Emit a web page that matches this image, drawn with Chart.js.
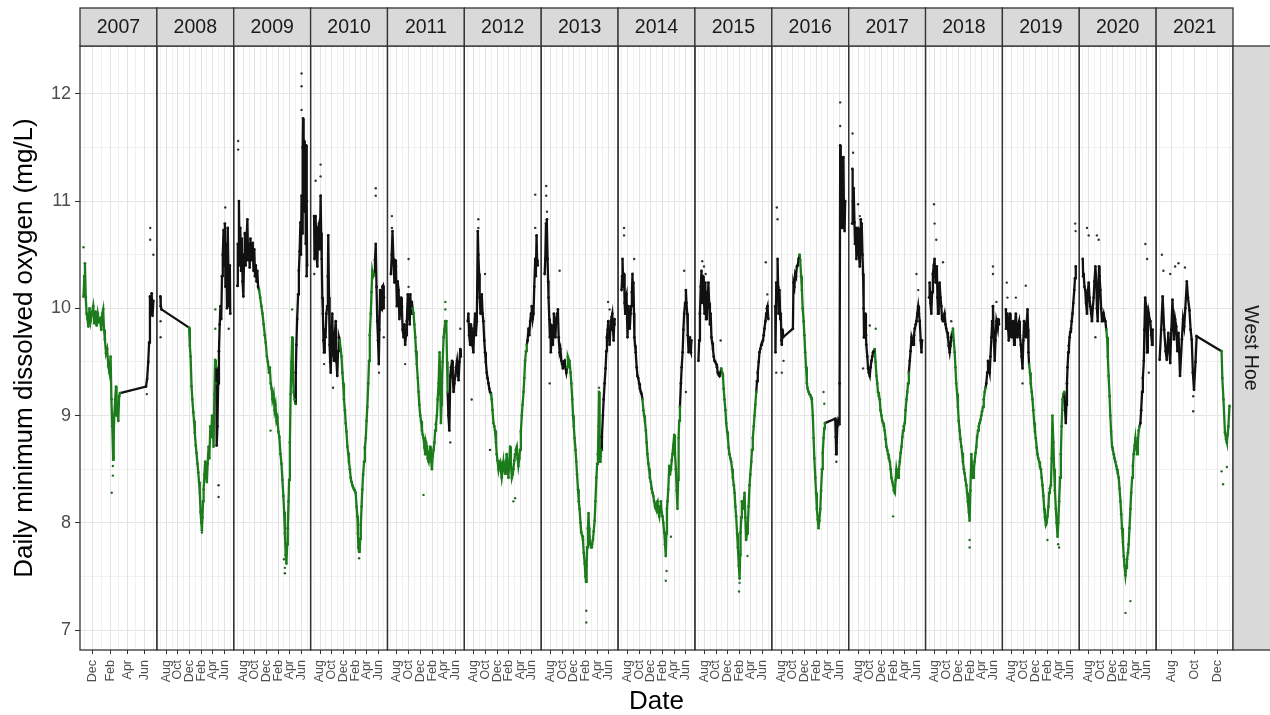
<!DOCTYPE html>
<html>
<head>
<meta charset="utf-8">
<title>Daily minimum dissolved oxygen - West Hoe</title>
<script src="https://cdn.jsdelivr.net/npm/chart.js@4.4.1/dist/chart.umd.min.js"></script>
<style>
  html, body { margin: 0; padding: 0; background: #fff; }
  #wrap { width: 1270px; height: 715px; }
</style>
</head>
<body>
<div id="wrap"><canvas id="doChart" width="1270" height="715"></canvas></div>
<script>
// one facet per water year (1 July to 30 June)
const panelYears = ['2007', '2008', '2009', '2010', '2011', '2012', '2013', '2014',
                    '2015', '2016', '2017', '2018', '2019', '2020', '2021'];
const siteName = 'West Hoe';

// x values are days counted from 1 July of the panel year
const labelDays = [31, 92, 153, 215, 274, 335];
const labelMonths = ['Aug', 'Oct', 'Dec', 'Feb', 'Apr', 'Jun'];
const minorDays = [0, 62, 123, 184, 243, 304, 365];
const yMajor = [7, 8, 9, 10, 11, 12];

// days (from 1 July) bounding the green winter stretch of each year
const greenFrom = [0, 150, 114, 134, 113, 121, 117, 109, 119, 127, 118, 121, 120, 123, 164];
const greenTo   = [248, 293, 304, 313, 296, 308, 295, 305, 302, 259, 296, 295, 306, 297, 185];

// daily minimum DO, mg/L
const lineDays = [
  [120,123,125,128,131,134,137,141,145,149,154,158,162,166,170,174,178,182,186,189,192,195,199,203,207,211,215,218,221,224,226,228,231,234,236,239,242,245,248,339,343,347,350,353,356,359,362,365],
  [0,2,6,150,154,158,163,167,172,176,180,185,189,194,198,202,206,210,214,217,220,223,226,230,234,238,243,247,252,256,261,265,270,274,278,282,286,290,293,294,298,302,306,310,314,318,322,326,330,334,337,340,344,348,352,356,360,363,365],
  [0,3,6,9,12,16,20,24,28,32,36,40,44,48,53,57,61,65,69,73,77,81,85,89,93,97,101,105,109,114,120,126,132,138,144,149,155,160,166,170,175,180,184,190,195,200,205,210,215,220,226,231,236,241,245,249,253,257,261,264,268,271,275,279,283,287,291,295,300,304,306,309,313,318,322,326,330,333,336,339,342,344,347,350,353,356,358,360,362,364,365],
  [0,2,5,8,12,17,21,26,30,34,37,40,43,46,49,52,56,60,64,69,72,74,78,81,84,87,91,95,99,104,108,113,117,121,125,130,134,139,143,148,152,156,161,165,169,174,178,182,187,191,196,200,204,209,213,217,222,226,229,231,235,238,241,244,248,252,256,261,265,270,274,278,283,287,291,296,300,304,309,313,318,322,326,330,334,338,341,345,349,353,357,360,363,365],
  [0,4,8,13,18,22,26,31,35,40,44,48,53,57,61,66,70,74,79,83,88,92,95,98,101,105,109,113,118,122,127,131,135,140,144,148,153,157,162,166,170,175,179,183,188,192,197,201,205,209,214,218,223,227,231,235,240,244,249,254,258,261,264,266,270,275,279,284,289,293,296,300,305,310,314,319,323,327,331,336,340,345,349,353,358,362,365],
  [0,3,7,12,16,20,25,29,33,38,42,47,52,55,59,62,66,69,73,77,81,86,90,94,99,103,108,112,116,121,125,129,134,138,142,147,151,155,160,164,169,173,177,182,186,190,195,199,203,208,212,216,221,225,230,234,238,243,247,251,256,260,264,269,273,277,282,286,291,295,299,304,308,312,317,321,326,330,334,339,343,347,352,355,359,362,365],
  [0,3,7,10,12,15,18,20,24,27,30,32,35,37,40,43,46,48,52,56,60,65,69,73,78,82,87,91,95,100,104,108,113,117,121,126,130,135,139,144,148,152,156,161,165,169,174,178,182,187,191,196,200,204,209,213,216,219,222,226,229,232,234,238,243,247,252,256,261,265,270,274,278,281,284,287,289,292,295,299,304,308,313,318,322,325,329,332,336,339,343,346,350,353,357,360,363,365],
  [0,3,5,9,13,16,19,22,26,29,31,34,36,40,43,47,50,54,57,60,62,65,67,71,74,79,83,87,92,96,101,105,109,114,118,122,127,131,135,140,144,148,153,157,162,166,170,175,179,183,188,192,197,201,205,209,214,218,223,227,231,234,237,240,244,249,253,258,262,266,270,275,279,284,288,292,295,298,301,305,310,314,319,323,327,332,336,339,343,346,350,353,357,360,362,365],
  [0,4,8,12,16,20,24,28,32,36,40,44,48,52,56,60,64,68,72,76,80,84,88,93,97,101,106,110,115,119,124,128,132,136,141,145,150,154,158,162,167,171,176,180,185,189,193,197,202,206,211,215,218,220,224,227,230,232,237,241,245,249,254,258,262,267,271,276,280,284,289,293,297,302,306,310,315,319,323,328,332,337,341,345,350,354,358,361,365],
  [0,1,5,9,12,15,17,20,22,26,29,32,34,37,40,92,95,100,104,108,113,117,122,127,130,135,139,143,148,152,156,161,165,169,174,178,183,187,191,196,200,204,209,213,217,222,226,230,235,239,244,248,252,256,259,313,316,318,321,324,328,333,336,339,342,345,347,350,353,356,359,362,365],
  [0,1,4,8,12,15,19,22,26,31,35,40,43,45,48,50,54,57,60,62,66,69,72,74,79,83,87,92,96,101,105,109,113,118,122,127,131,135,140,144,148,153,157,162,166,170,175,179,183,188,192,197,201,205,210,214,218,223,227,231,235,240,244,249,253,258,262,266,270,275,279,284,288,292,296,301,305,310,314,319,323,327,332,336,340,345,349,353,358,362,365],
  [0,3,7,12,16,20,25,29,32,34,38,41,44,47,51,55,60,64,68,73,77,81,86,90,94,99,103,108,112,116,121,125,129,134,138,142,147,151,155,160,164,169,173,177,182,186,190,195,199,203,208,212,216,221,225,230,234,238,243,247,251,256,260,264,269,273,277,282,286,291,295,299,304,308,312,317,321,326,330,334,338,343,347,352,355,359,362,365],
  [0,1,4,8,12,15,18,22,25,29,33,36,40,43,47,52,56,60,65,69,73,78,82,87,91,95,100,104,108,113,116,118,121,126,130,135,139,143,148,152,156,161,165,169,174,178,183,187,191,196,200,204,209,213,217,222,226,230,235,239,243,248,252,256,261,265,270,274,278,283,287,291,296,300,305,309,313,316,319,322,326,329,333,336,340,344,348,352,357,361,365],
  [0,2,5,9,13,17,22,26,31,35,39,44,48,52,57,61,66,71,74,78,81,85,88,92,96,101,105,109,114,118,123,127,131,135,140,144,148,153,157,162,166,170,175,179,183,188,192,197,201,205,210,214,218,223,227,231,236,240,244,249,253,258,262,266,271,275,280,284,288,292,297,301,305,310,314,319,322,326,331,334,336,340,345,349,353,358,362,365],
  [0,4,8,12,16,19,23,28,31,34,38,41,44,47,50,54,59,62,65,68,72,75,79,82,85,88,91,95,98,164,166,169,173,176,178,180,182,185]
];
const lineDO = [
  [10.11,10.3,10.42,10.1,9.95,9.9,9.83,10.0,9.88,9.95,10.02,9.86,9.97,9.84,9.95,9.88,9.9,9.8,9.95,9.99,9.8,9.71,9.58,9.62,9.46,9.4,9.55,9.15,8.9,8.59,8.8,9.0,9.15,9.27,9.0,9.09,8.95,9.18,9.21,9.27,9.34,9.5,9.68,10.11,9.95,10.14,9.93,10.07],
  [10.11,10.02,9.99,9.82,9.65,9.55,9.27,9.15,9.03,8.95,8.84,8.72,8.65,8.55,8.47,8.38,8.28,8.1,8.0,7.93,8.05,8.2,8.31,8.45,8.57,8.45,8.38,8.55,8.71,8.6,8.9,8.8,9.0,8.85,8.71,9.2,9.52,9.3,9.45,8.72,8.9,9.3,9.6,9.85,10.02,9.9,10.3,10.5,10.73,10.4,10.79,10.2,10.6,10.0,10.75,10.3,10.02,10.4,9.95],
  [10.21,10.6,10.4,11.0,10.5,10.75,10.35,10.65,10.25,10.11,10.5,10.7,10.4,10.62,10.83,10.45,10.6,10.38,10.65,10.45,10.55,10.61,10.35,10.55,10.3,10.4,10.25,10.35,10.2,10.17,10.1,10.02,9.95,9.85,9.75,9.68,9.55,9.5,9.4,9.45,9.3,9.25,9.15,9.2,9.05,9.1,8.95,8.98,8.85,8.8,8.64,8.55,8.4,8.25,8.1,7.9,7.7,7.62,7.8,7.95,8.2,8.4,8.75,9.2,9.5,9.73,9.4,9.22,9.15,9.11,9.4,9.66,9.9,10.13,10.35,10.53,10.8,10.5,11.05,10.7,11.5,11.77,11.2,11.56,10.9,11.45,10.6,11.52,10.3,11.0,10.4],
  [10.86,10.46,10.7,10.86,10.5,10.39,10.75,10.79,10.55,11.05,10.7,10.46,10.1,9.95,9.7,9.59,9.8,9.73,9.95,10.02,10.3,10.68,10.1,9.66,9.5,9.4,9.7,9.95,9.6,9.51,9.75,9.88,9.5,9.37,9.6,9.73,9.7,9.62,9.55,9.4,9.3,9.15,9.05,8.93,8.85,8.71,8.65,8.57,8.5,8.42,8.38,8.35,8.33,8.31,8.3,8.28,8.15,8.06,7.9,7.77,7.73,7.75,7.85,7.98,8.15,8.31,8.45,8.57,8.7,8.79,8.95,9.08,9.3,9.51,9.75,9.95,10.15,10.35,10.3,10.32,10.45,10.6,10.2,9.88,9.7,9.48,9.8,10.17,10.0,9.99,10.2,10.21,10.0,10.1],
  [10.32,10.5,10.72,10.46,10.24,10.45,10.39,10.02,10.25,10.17,9.9,9.95,10.1,10.02,9.8,9.73,9.85,9.66,9.75,9.88,10.13,9.9,9.99,9.85,10.13,9.95,10.06,10.0,9.95,9.85,9.73,9.6,9.48,9.35,9.22,9.1,9.0,8.95,8.86,8.82,8.79,8.7,8.64,8.75,8.71,8.6,8.57,8.65,8.71,8.6,8.5,8.62,8.68,8.75,8.86,8.92,9.0,9.15,9.3,9.59,9.2,8.93,9.1,9.3,9.5,9.73,9.8,9.88,9.88,9.5,9.22,9.0,8.86,9.37,9.45,9.51,9.35,9.22,9.3,9.37,9.45,9.51,9.4,9.33,9.5,9.62,9.55],
  [9.88,9.95,9.75,9.66,9.85,9.81,9.65,9.59,9.8,9.95,9.75,9.88,10.72,10.5,10.32,10.1,9.95,10.05,10.13,9.95,9.88,9.7,9.59,9.5,9.4,9.35,9.3,9.25,9.22,9.2,9.15,9.05,8.93,8.9,8.86,8.75,8.64,8.58,8.5,8.55,8.57,8.48,8.42,8.5,8.57,8.5,8.46,8.55,8.64,8.5,8.42,8.55,8.71,8.55,8.42,8.45,8.5,8.58,8.64,8.68,8.71,8.6,8.53,8.6,8.68,8.85,9.0,9.1,9.22,9.35,9.51,9.6,9.66,9.7,9.81,9.75,9.88,9.95,10.02,9.9,9.95,10.2,10.46,10.3,10.68,10.45,10.4],
  [10.32,10.46,10.79,10.6,10.83,10.46,10.25,10.1,9.9,9.73,9.85,9.59,9.7,9.84,9.75,9.66,9.8,9.95,9.8,9.73,9.9,9.95,9.99,9.73,9.59,9.62,9.51,9.48,9.44,9.5,9.51,9.45,9.4,9.45,9.55,9.52,9.51,9.4,9.3,9.15,9.0,8.9,8.79,8.68,8.57,8.45,8.31,8.2,8.13,8.0,7.91,7.88,7.84,7.72,7.62,7.5,7.45,7.6,7.77,7.95,8.09,7.95,7.87,7.8,7.77,7.8,7.84,7.92,8.02,8.2,8.42,8.55,8.64,8.9,9.22,8.8,8.57,8.62,8.68,8.8,9.0,9.15,9.3,9.44,9.6,9.73,9.8,9.88,9.75,9.66,9.8,9.88,9.92,9.95,9.8,9.7,9.85,9.9],
  [10.17,10.3,10.46,10.2,10.32,10.05,9.95,10.1,10.13,9.9,9.73,9.9,10.02,9.85,9.81,9.95,10.02,10.15,10.32,10.1,10.24,9.95,9.73,9.65,9.59,9.45,9.37,9.35,9.3,9.25,9.22,9.2,9.15,9.05,9.0,8.95,8.86,8.75,8.64,8.55,8.5,8.42,8.38,8.32,8.28,8.25,8.2,8.15,8.13,8.18,8.2,8.1,8.06,8.15,8.2,8.1,8.06,8.0,7.91,7.8,7.69,7.9,8.13,8.2,8.31,8.53,8.45,8.5,8.58,8.64,8.72,8.82,8.65,8.5,8.3,8.13,8.4,8.79,8.95,9.08,9.3,9.45,9.59,9.8,9.95,10.05,10.17,10.05,9.95,9.75,9.59,9.65,9.73,9.6,9.59,9.7],
  [9.51,9.7,9.95,10.2,10.35,10.05,10.3,10.1,9.95,10.24,9.9,10.15,10.0,10.24,10.05,9.85,9.95,9.73,9.68,9.62,9.55,9.51,9.5,9.48,9.45,9.4,9.38,9.37,9.4,9.44,9.4,9.37,9.25,9.15,9.05,8.93,8.85,8.79,8.7,8.64,8.6,8.57,8.5,8.42,8.35,8.28,8.15,8.06,7.9,7.77,7.6,7.48,7.7,7.91,8.05,8.2,8.15,8.13,8.2,8.28,8.05,7.84,7.9,7.98,8.15,8.35,8.45,8.57,8.68,8.79,8.9,9.0,9.1,9.22,9.32,9.4,9.5,9.59,9.62,9.66,9.68,9.7,9.75,9.81,9.88,9.95,10.0,10.02,9.9],
  [10.02,9.59,10.24,10.1,10.46,10.2,9.95,10.1,10.17,9.9,9.95,9.7,9.66,9.8,9.73,9.81,10.24,10.2,10.32,10.3,10.39,10.4,10.46,10.5,10.45,10.3,10.17,10.0,9.88,9.75,9.59,9.45,9.3,9.25,9.22,9.2,9.19,9.17,9.15,9.0,8.79,8.6,8.42,8.28,8.13,8.03,7.95,8.02,8.13,8.3,8.5,8.65,8.79,8.88,8.93,8.97,8.8,8.64,8.75,8.9,8.95,8.92,9.3,11.52,11.0,11.41,10.9,10.75,11.1,11.41,10.8,10.72,11.0],
  [10.79,11.3,11.0,11.12,10.8,10.6,10.75,10.46,10.6,10.75,10.5,10.39,10.6,10.83,10.6,10.79,10.5,10.32,10.0,9.73,9.9,9.95,9.75,9.66,9.55,9.44,9.4,9.37,9.45,9.51,9.55,9.59,9.6,9.62,9.5,9.37,9.3,9.22,9.18,9.15,9.05,9.0,8.95,8.93,8.9,8.86,8.78,8.71,8.68,8.64,8.6,8.57,8.5,8.42,8.38,8.35,8.3,8.28,8.4,8.5,8.45,8.42,8.5,8.57,8.65,8.71,8.8,8.86,8.9,8.93,9.05,9.15,9.22,9.3,9.4,9.51,9.6,9.73,9.7,9.66,9.75,9.81,9.85,9.88,9.95,10.02,9.95,9.88,9.7,9.59,9.7],
  [10.1,10.24,10.05,9.95,10.15,10.32,10.4,10.46,10.3,10.24,10.35,10.39,10.1,9.95,10.1,10.24,10.1,10.02,9.9,9.88,9.92,9.95,9.85,9.81,9.78,9.73,9.65,9.59,9.65,9.73,9.78,9.81,9.7,9.59,9.45,9.3,9.2,9.08,8.95,8.86,8.78,8.71,8.65,8.57,8.5,8.46,8.4,8.35,8.28,8.2,8.1,8.02,8.3,8.64,8.5,8.42,8.5,8.57,8.65,8.71,8.8,8.86,8.9,8.93,8.96,9.0,9.04,9.08,9.15,9.22,9.26,9.3,9.4,9.51,9.45,9.4,9.55,9.73,9.88,10.02,9.75,9.51,9.7,9.88,9.85,9.81,9.9,9.85],
  [9.99,9.81,9.9,9.95,9.8,9.7,9.85,9.95,9.8,9.73,9.85,9.88,9.75,9.66,9.85,9.95,9.8,9.73,9.85,9.88,9.75,9.66,9.55,9.44,9.7,9.88,9.8,9.73,9.85,9.99,9.8,9.59,9.48,9.4,9.3,9.22,9.15,9.05,8.93,8.85,8.79,8.7,8.64,8.6,8.57,8.52,8.5,8.42,8.35,8.25,8.13,8.05,7.98,8.0,8.06,8.15,8.28,8.32,8.35,8.6,9.0,8.75,8.5,8.3,8.13,8.0,7.87,8.0,8.2,8.42,8.64,8.9,9.15,9.2,9.22,9.05,8.93,9.1,9.3,9.45,9.59,9.65,9.73,9.78,9.81,9.88,9.95,10.05,10.17,10.28,10.39],
  [10.46,10.3,10.32,10.2,10.17,10.05,9.95,10.15,10.24,10.1,10.02,9.95,9.88,10.0,10.1,10.25,10.39,10.24,10.0,9.88,10.1,10.39,10.3,10.17,10.0,9.88,9.92,9.95,9.9,9.88,9.8,9.73,9.55,9.37,9.18,9.0,8.85,8.71,8.68,8.64,8.6,8.57,8.53,8.5,8.46,8.42,8.32,8.2,8.08,7.95,7.82,7.69,7.6,7.51,7.58,7.66,7.72,7.8,7.95,8.13,8.28,8.42,8.53,8.64,8.72,8.79,8.7,8.64,8.75,8.86,8.9,8.93,9.05,9.22,9.35,9.51,9.8,10.1,10.02,9.8,9.59,9.8,9.95,9.9,9.88,9.75,9.66,9.8],
  [9.52,9.8,10.11,9.8,9.6,9.52,9.77,9.49,9.8,10.08,9.71,9.9,9.83,9.6,9.77,9.37,9.71,9.9,9.83,10.0,10.25,10.1,9.98,9.8,9.71,9.4,9.24,9.5,9.74,9.6,9.35,9.15,8.84,8.78,8.75,8.82,8.9,9.09]
];

// single readings standing apart from the daily trace
const dotDays = [
  [120,219,223,223,342,354,354,365],
  [1,1,217,287,287,304,304,339,357],
  [5,5,174,244,249,249,287,336,336,336],
  [1,8,34,34,52,99,235,322,322,339,364],
  [5,5,74,92,92,170,284,284,310,362],
  [20,52,55,55,90,116,238,247,352,352],
  [8,8,12,26,78,217,217,284,331,339],
  [13,13,66,231,235,258,327,336],
  [20,29,38,116,212,215,256,352,360],
  [5,8,12,34,43,252,256,319,339,339],
  [2,5,31,40,57,92,123,214,336,345],
  [26,29,38,73,116,212,212,334,334,352],
  [5,8,52,87,104,217,273,278,362,364],
  [22,31,66,74,83,223,249,327,336,345],
  [6,10,28,41,50,67,89,89,164,168,178]
];
const dotDO = [
  [10.57,8.28,8.53,8.44,9.2,10.75,10.64,10.5],
  [9.88,9.73,7.91,9.99,9.81,8.35,8.24,10.94,9.81],
  [11.56,11.48,8.86,7.66,7.53,7.58,9.99,12.19,12.07,11.85],
  [10.32,11.19,11.34,11.23,9.48,9.26,7.67,11.12,11.05,9.4,9.73],
  [10.86,10.75,9.48,10.46,10.2,8.26,10.06,9.99,8.75,9.81],
  [9.15,10.24,10.83,10.75,10.32,8.68,8.2,8.23,11.06,10.75],
  [11.14,11.05,10.9,9.3,10.35,7.07,7.18,9.26,10.06,9.99],
  [10.75,10.68,10.46,7.46,7.55,7.87,10.35,9.22],
  [10.44,10.39,10.32,9.7,7.36,7.44,7.69,10.43,10.13],
  [9.4,10.94,10.83,9.4,9.51,9.22,9.11,8.57,11.92,11.7],
  [11.63,11.45,10.97,10.86,9.44,9.84,9.81,8.06,10.32,10.17],
  [10.97,10.79,10.64,10.43,9.88,7.84,7.77,10.39,10.32,10.06],
  [10.24,10.1,10.1,9.3,10.21,7.84,7.8,7.77,10.79,10.72],
  [10.75,10.68,9.73,10.68,10.64,7.16,7.27,10.6,10.46,9.4],
  [10.5,10.35,10.32,10.39,10.42,10.38,9.18,9.04,8.48,8.36,8.52]
];

const FONT = "'Liberation Sans', Arial, Helvetica, sans-serif";
const GREEN = '#1c7c1c';
const BLACK = '#111111';

const inSeason = (i, d) => d >= greenFrom[i] && d <= greenTo[i];

// y range: data extent plus 5% each side
const allDO = lineDO.flat().concat(dotDO.flat());
const yLo = Math.min(...allDO);
const yHi = Math.max(...allDO);
const yPad = (yHi - yLo) * 0.05;

const scales = {
  y: {
    type: 'linear',
    position: 'left',
    min: yLo - yPad,
    max: yHi + yPad,
    afterBuildTicks: axis => {
      const vals = [];
      yMajor.forEach(v => { vals.push(v); if (v + 0.5 <= axis.max) vals.push(v + 0.5); });
      if (yMajor[0] - 0.5 >= axis.min) vals.unshift(yMajor[0] - 0.5);
      axis.ticks = vals.map(v => ({ value: v }));
    },
    afterFit: axis => { axis.width = 80; },
    ticks: {
      color: '#4d4d4d',
      padding: 4,
      font: { family: FONT, size: 18 },
      callback: v => (Number.isInteger(v) ? String(v) : '')
    },
    grid: {
      color: c => (c.tick && Number.isInteger(c.tick.value) ? '#e6e6e6' : '#f1f1f1'),
      lineWidth: 1,
      tickLength: 5,
      tickColor: c => (c.tick && Number.isInteger(c.tick.value) ? '#333333' : 'rgba(0,0,0,0)')
    },
    border: { display: false },
    title: {
      display: true,
      text: 'Daily minimum dissolved oxygen (mg/L)',
      color: '#000',
      font: { family: FONT, size: 26, lineHeight: 1 },
      padding: { top: 12, bottom: 0 }
    }
  }
};

const datasets = [];

panelYears.forEach((yr, i) => {
  const id = 'x' + i;
  const days = lineDays[i];
  const d0 = days[0];
  const d1 = days[days.length - 1];
  const pad = (d1 - d0) * 0.05;

  scales[id] = {
    type: 'linear',
    position: 'bottom',
    stack: 'panels',
    stackWeight: 1,
    min: d0 - pad,
    max: d1 + pad,
    afterBuildTicks: axis => {
      axis.ticks = minorDays.concat(labelDays)
        .filter(v => v >= axis.min && v <= axis.max)
        .sort((a, b) => a - b)
        .map(v => ({ value: v }));
    },
    afterFit: axis => { axis.height = 65; },
    ticks: {
      autoSkip: false,
      minRotation: 90,
      maxRotation: 90,
      padding: 6,
      color: '#4d4d4d',
      font: { family: FONT, size: 12.5 },
      callback: v => {
        const k = labelDays.indexOf(v);
        return k < 0 ? '' : labelMonths[k];
      }
    },
    grid: {
      color: c => (c.tick && labelDays.includes(c.tick.value) ? '#e3e3e3' : '#f0f0f0'),
      lineWidth: 1,
      tickLength: 4,
      tickColor: c => (c.tick && labelDays.includes(c.tick.value) ? '#333333' : 'rgba(0,0,0,0)')
    },
    border: { display: false },
    title: {
      display: i === 7,
      text: 'Date',
      color: '#000',
      font: { family: FONT, size: 26, lineHeight: 1 },
      padding: { top: 0, bottom: 0 }
    }
  };

  datasets.push({
    type: 'line',
    label: yr,
    xAxisID: id,
    yAxisID: 'y',
    data: days.map((d, j) => ({ x: d, y: lineDO[i][j] })),
    borderWidth: 2.3,
    borderColor: BLACK,
    segment: {
      borderColor: c => (inSeason(i, c.p0.parsed.x) && inSeason(i, c.p1.parsed.x) ? GREEN : BLACK)
    },
    pointRadius: 1.4,
    pointBorderWidth: 0,
    pointBackgroundColor: days.map(d => (inSeason(i, d) ? GREEN : BLACK)),
    tension: 0,
    fill: false
  });

  datasets.push({
    type: 'scatter',
    label: yr + ' readings',
    xAxisID: id,
    yAxisID: 'y',
    data: dotDays[i].map((d, j) => ({ x: d, y: dotDO[i][j] })),
    pointRadius: 1.2,
    pointBorderWidth: 0,
    pointBackgroundColor: dotDays[i].map(d => (inSeason(i, d) ? '#246b24' : '#333333'))
  });
});

// panel frames, year strips along the top and the site strip on the right
const facetStrips = {
  id: 'facetStrips',
  beforeDraw(chart) {
    const ctx = chart.ctx;
    ctx.save();
    ctx.fillStyle = '#ffffff';
    ctx.fillRect(0, 0, chart.width, chart.height);
    ctx.restore();
  },
  afterDatasetsDraw(chart) {
    const { ctx, chartArea: a } = chart;
    const stripTop = 8;
    ctx.save();
    ctx.lineWidth = 1.3;
    ctx.strokeStyle = '#333333';
    ctx.textAlign = 'center';
    ctx.textBaseline = 'middle';
    ctx.font = '19.5px ' + FONT;

    panelYears.forEach((yr, i) => {
      const s = chart.scales['x' + i];
      ctx.strokeRect(s.left, a.top, s.right - s.left, a.bottom - a.top);
      ctx.fillStyle = '#d9d9d9';
      ctx.fillRect(s.left, stripTop, s.right - s.left, a.top - stripTop);
      ctx.strokeRect(s.left, stripTop, s.right - s.left, a.top - stripTop);
      ctx.fillStyle = '#1a1a1a';
      ctx.fillText(yr, (s.left + s.right) / 2, (stripTop + a.top) / 2 + 1);
    });

    const rx = a.right;
    const rw = chart.width - a.right + 2;
    ctx.fillStyle = '#d9d9d9';
    ctx.fillRect(rx, a.top, rw, a.bottom - a.top);
    ctx.strokeRect(rx, a.top, rw, a.bottom - a.top);
    ctx.translate(rx + (chart.width - rx) / 2, (a.top + a.bottom) / 2);
    ctx.rotate(Math.PI / 2);
    ctx.fillStyle = '#1a1a1a';
    ctx.fillText(siteName, 0, 1);
    ctx.restore();
  }
};

new Chart(document.getElementById('doChart').getContext('2d'), {
  type: 'line',
  data: { datasets },
  options: {
    responsive: false,
    devicePixelRatio: 1,
    animation: false,
    layout: { padding: { top: 46, right: 37, bottom: 0, left: 0 } },
    plugins: {
      legend: { display: false },
      tooltip: { enabled: false }
    },
    scales
  },
  plugins: [facetStrips]
});
</script>
</body>
</html>
